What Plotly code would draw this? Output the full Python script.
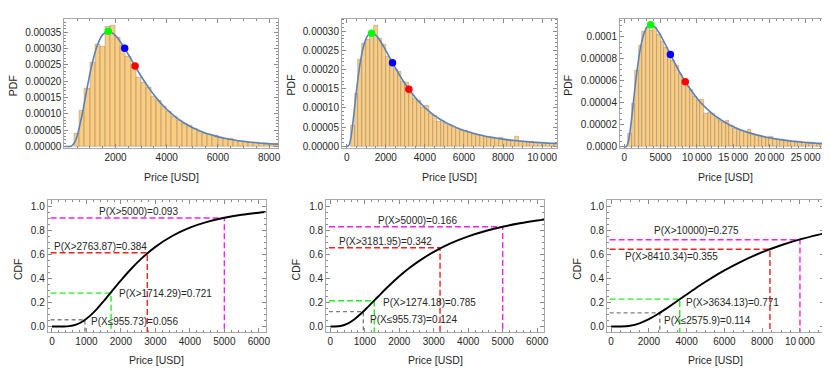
import plotly.graph_objects as go

W, H = 830, 372
FONT = "Liberation Sans"

# ---------------- PDF panels: histogram data (bin centers, heights) ----------------
bins1 = [500 + 200 * i for i in range(40)]
hist1 = [4.0, 10.9, 17.7, 25.7, 31.1, 30.5, 36.8, 37.1, 33.3, 31.0, 27.5, 25.0, 21.0, 19.5, 18.0,
         15.3, 14.0, 12.2, 10.8, 9.3, 8.0, 7.0, 6.3, 5.6, 4.7, 4.0, 3.7, 3.2, 2.8, 2.5, 2.4, 1.9,
         1.6, 1.5, 1.3, 1.1, 1.0, 0.9, 0.8, 0.8]
bins2 = [300 + 200 * i for i in range(53)]
hist2 = [5.3, 13.7, 22.5, 26.8, 27.8, 29.0, 31.6, 28.2, 26.5, 23.5, 22.5, 20.0, 19.5, 17.0, 16.5,
         13.8, 12.5, 11.8, 10.2, 10.5, 8.6, 8.0, 6.5, 6.8, 6.0, 5.4, 5.2, 4.6, 4.2, 4.1, 3.5, 3.3,
         3.0, 2.8, 2.5, 2.4, 2.2, 2.0, 2.2, 1.8, 1.6, 1.5, 2.5, 1.3, 1.2, 1.1, 1.1, 1.0, 0.9, 0.9,
         0.8, 0.8, 0.7]
bins3 = [750 + 500 * i for i in range(56)]
hist3 = [1.2, 3.9, 6.9, 9.2, 10.5, 10.8, 10.6, 10.8, 10.2, 9.6, 9.0, 8.6, 7.8, 7.4, 6.7, 6.0, 5.5,
         5.2, 4.6, 4.2, 4.3, 3.0, 3.1, 3.0, 2.6, 2.4, 2.2, 2.4, 1.9, 1.7, 1.6, 1.5, 1.4, 1.6, 1.2,
         1.1, 1.0, 0.9, 0.85, 0.95, 0.75, 0.7, 0.65, 0.6, 0.55, 0.5, 0.48, 0.45, 0.42, 0.4, 0.37,
         0.34, 0.32, 0.3, 0.28, 0.3]
binw = [200, 200, 500]

# fitted density curves (x, pdf*1e5)
fit1_x = [0, 100, 200, 300, 400, 500, 700, 900, 1100, 1300, 1500, 1700, 1900, 2100, 2300, 2500, 2700,
          2900, 3100, 3300, 3500, 3700, 3900, 4100, 4300, 4500, 4700, 4900, 5100, 5300, 5500, 5700,
          5900, 6100, 6300, 6500, 6700, 6900, 7100, 7300, 7500, 7700, 7900, 8100, 8300, 8400]
fit1_y = [0, 0, 0.01, 0.3, 1.26, 3.25, 10.0, 18.34, 25.84, 31.2, 34.2, 35.17, 34.6, 32.97, 30.71,
          28.13, 25.44, 22.78, 20.27, 17.93, 15.8, 13.88, 12.17, 10.66, 9.32, 8.14, 7.12, 6.22, 5.44,
          4.76, 4.16, 3.65, 3.19, 2.8, 2.46, 2.16, 1.9, 1.67, 1.47, 1.3, 1.15, 1.02, 0.9, 0.8, 0.71, 0.67]
fit2_x = [0, 100, 200, 300, 500, 700, 900, 1100, 1300, 1500, 1700, 1900, 2100, 2300, 2500, 2700, 2900,
          3100, 3300, 3500, 3700, 3900, 4100, 4300, 4500, 4700, 4900, 5100, 5300, 5500, 5700, 5900,
          6100, 6300, 6500, 6700, 6900, 7100, 7300, 7500, 7700, 7900, 8100, 8300, 8500, 8700, 8900,
          9100, 9300, 9500, 9700, 9900, 10100, 10300, 10500, 10700, 10800]
fit2_y = [0, 0.15, 1.78, 5.3, 14.42, 22.03, 26.77, 29.03, 29.54, 28.91, 27.6, 25.92, 24.08, 22.2,
          20.36, 18.61, 16.97, 15.46, 14.06, 12.79, 11.64, 10.59, 9.64, 8.79, 8.01, 7.31, 6.68, 6.11,
          5.59, 5.12, 4.69, 4.31, 3.96, 3.64, 3.35, 3.09, 2.85, 2.63, 2.43, 2.25, 2.08, 1.93, 1.79,
          1.66, 1.54, 1.43, 1.34, 1.24, 1.16, 1.08, 1.01, 0.94, 0.88, 0.82, 0.77, 0.72, 0.7]
fit3_x = [0, 250, 500, 750, 1000, 1250, 1750, 2250, 2750, 3250, 3750, 4250, 4750, 5250, 5750, 6250,
          6750, 7250, 7750, 8250, 8750, 9250, 9750, 10250, 10750, 11250, 11750, 12250, 12750, 13250,
          13750, 14250, 14750, 15250, 15750, 16250, 16750, 17250, 17750, 18250, 18750, 19250, 19750,
          20250, 20750, 21250, 21750, 22250, 22750, 23250, 23750, 24250, 24750, 25250, 25750, 26250,
          26750, 27250, 27750, 28250, 28600]
fit3_y = [0, 0.02, 0.33, 1.2, 2.5, 4.01, 6.89, 9.04, 10.35, 10.97, 11.09, 10.86, 10.41, 9.83, 9.19,
          8.53, 7.88, 7.24, 6.65, 6.08, 5.57, 5.09, 4.65, 4.24, 3.88, 3.54, 3.24, 2.96, 2.71, 2.49,
          2.28, 2.09, 1.92, 1.76, 1.62, 1.49, 1.38, 1.27, 1.17, 1.08, 1.0, 0.925, 0.856, 0.793, 0.736,
          0.683, 0.634, 0.589, 0.548, 0.51, 0.475, 0.443, 0.413, 0.386, 0.36, 0.337, 0.315, 0.295,
          0.276, 0.259, 0.25]

# mode (green), median (blue), mean (red)
pts_x = [[1714.29, 2357, 2763.87], [1274.18, 2345, 3181.95], [3634.13, 6358, 8410.34]]
pts_y = [[35.2, 30.0, 24.58], [29.5, 21.78, 14.87], [11.1, 8.39, 5.91]]
pt_colors = ["#00FF00", "#0000FF", "#FF0000"]

# ---------------- CDF panels ----------------
cdf1_x = [0, 300, 500, 700, 900, 1100, 1300, 1500, 1700, 2000, 2300, 2600, 3000, 3500, 4000, 4500,
          5000, 5500, 6000, 6200]
cdf1_y = [0, 0.0001, 0.003, 0.0157, 0.044, 0.0885, 0.1459, 0.2117, 0.2814, 0.3856, 0.4828, 0.569,
          0.6655, 0.7583, 0.8257, 0.8742, 0.9087, 0.9335, 0.9512, 0.9568]
cdf2_x = [0, 100, 300, 500, 700, 900, 1100, 1300, 1500, 1700, 2000, 2300, 2600, 3000, 3500, 4000,
          4500, 5000, 5500, 6000, 6200]
cdf2_y = [0, 0.0, 0.0042, 0.0239, 0.0608, 0.1101, 0.1663, 0.2251, 0.2837, 0.3403, 0.4193, 0.4901,
          0.5526, 0.6238, 0.6959, 0.7529, 0.798, 0.8338, 0.8625, 0.8855, 0.8934]
cdf3_x = [0, 500, 1000, 1500, 2000, 2500, 3000, 3500, 4000, 4500, 5000, 6000, 7000, 8000, 9000, 10000,
          11000, 11260]
cdf3_y = [0, 0.0003, 0.0067, 0.0267, 0.061, 0.106, 0.1576, 0.2124, 0.2677, 0.322, 0.374, 0.4691,
          0.5512, 0.6206, 0.6789, 0.7276, 0.7682, 0.7776]

# reference lines: (threshold, cdf level, colour, label)
ref1 = [(955.73, 0.056, "gray", "P(X\u2264955.73)=0.056"),
        (1714.29, 0.279, "#22EE22", "P(X>1714.29)=0.721"),
        (2763.87, 0.616, "#EE2222", "P(X>2763.87)=0.384"),
        (5000, 0.907, "#EE22EE", "P(X>5000)=0.093")]
ref2 = [(955.73, 0.124, "gray", "P(X\u2264955.73)=0.124"),
        (1274.18, 0.215, "#22EE22", "P(X>1274.18)=0.785"),
        (3181.95, 0.658, "#EE2222", "P(X>3181.95)=0.342"),
        (5000, 0.834, "#EE22EE", "P(X>5000)=0.166")]
ref3 = [(2575.9, 0.114, "gray", "P(X\u22642575.9)=0.114"),
        (3634.13, 0.229, "#22EE22", "P(X>3634.13)=0.771"),
        (8410.34, 0.645, "#EE2222", "P(X>8410.34)=0.355"),
        (10000, 0.725, "#EE22EE", "P(X>10000)=0.275")]
# label anchor positions (data x, data y, xanchor)
lab1 = [(1067, 0.038, "left"), (1886, 0.277, "left"), (1417, 0.670, "center"), (2518, 0.961, "center")]
lab2 = [(1078, 0.058, "left"), (1482, 0.198, "left"), (1607, 0.714, "center"), (2515, 0.890, "center")]
lab3 = [(2684, 0.052, "left"), (3858, 0.203, "left"), (3210, 0.588, "center"), (4532, 0.802, "center")]
line_start = [-40, -40, -80]

# ---------------- layout geometry (pixels) ----------------
top_px = [(56.7, 271.7), (336, 552.7), (615.7, 829)]
bot_px = [(40, 259.3), (320, 539.3), (602.7, 820.7)]
top_y = (10.7, 141.7)
bot_y = (194, 328)

top_xr = [[0, 8350], [-240, 10780], [-590, 28630]]
top_yr = [[-0.5, 39.1], [-0.5, 33.3], [-0.12, 11.65]]
bot_xr = [[-122, 6200], [-125, 6200], [-215, 11260]]
bot_yr = [-0.05, 1.058]

top_xt = [[2000, 4000, 6000, 8000], [0, 2000, 4000, 6000, 8000, 10000],
          [0, 5000, 10000, 15000, 20000, 25000]]
top_xtt = [["2000", "4000", "6000", "8000"], ["0", "2000", "4000", "6000", "8000", "10\u2009000"],
           ["0", "5000", "10\u2009000", "15\u2009000", "20\u2009000", "25\u2009000"]]
top_yt = [[0, 5, 10, 15, 20, 25, 30, 35], [0, 5, 10, 15, 20, 25, 30], [0, 2, 4, 6, 8, 10]]
top_ytt = [["0.00000", "0.00005", "0.00010", "0.00015", "0.00020", "0.00025", "0.00030", "0.00035"],
           ["0.00000", "0.00005", "0.00010", "0.00015", "0.00020", "0.00025", "0.00030"],
           ["0.0000", "0.00002", "0.00004", "0.00006", "0.00008", "0.0001"]]
bot_xt = [[0, 1000, 2000, 3000, 4000, 5000, 6000], [0, 1000, 2000, 3000, 4000, 5000, 6000],
          [0, 2000, 4000, 6000, 8000, 10000]]
bot_xtt = [[str(v) for v in bot_xt[0]], [str(v) for v in bot_xt[1]],
           ["0", "2000", "4000", "6000", "8000", "10\u2009000"]]
bot_yt = [0, 0.2, 0.4, 0.6, 0.8, 1.0]
bot_ytt = ["0.0", "0.2", "0.4", "0.6", "0.8", "1.0"]
top_minor_x = [500, 500, 1000]
top_minor_y = [1, 1, 0.5]
bot_minor_x = [200, 200, 500]


def px2x(p):
    return p / W


def px2y(p):
    return 1 - p / H


fig = go.Figure()
FRAME = "#a8a8a8"
TICKC = "#8a8a8a"
TXT = "#262626"


def axis_common():
    return dict(showgrid=False, zeroline=False, showline=True, linecolor=FRAME, linewidth=1,
                mirror="ticks", ticks="inside", ticklen=4, tickcolor=TICKC, tickwidth=0.8,
                tickfont=dict(family=FONT, size=10, color=TXT), tickmode="array")


layout = dict(width=W, height=H, margin=dict(l=0, r=0, t=0, b=0), paper_bgcolor="white",
              plot_bgcolor="white", showlegend=False, annotations=[])

hists = [(bins1, hist1, fit1_x, fit1_y), (bins2, hist2, fit2_x, fit2_y), (bins3, hist3, fit3_x, fit3_y)]
for i in range(3):
    n = i + 1
    xa, ya = f"x{n}", f"y{n}"
    b, h, fx, fy = hists[i]
    fig.add_trace(go.Bar(x=b, y=h, width=binw[i], xaxis=xa, yaxis=ya,
                         marker=dict(color="rgba(252,200,115,0.9)",
                                     line=dict(color="rgba(90,90,90,0.5)", width=0.6))))
    fig.add_trace(go.Scatter(x=fx, y=fy, mode="lines", xaxis=xa, yaxis=ya, line_shape="spline",
                             line=dict(color="#5E81B5", width=1.6)))
    fig.add_trace(go.Scatter(x=pts_x[i], y=pts_y[i], mode="markers", xaxis=xa, yaxis=ya,
                             marker=dict(color=pt_colors, size=7.5)))
    xd = [px2x(top_px[i][0]), px2x(top_px[i][1])]
    yd = [px2y(top_y[1]), px2y(top_y[0])]
    ax = axis_common()
    ax.update(domain=xd, range=top_xr[i], anchor=ya, tickvals=top_xt[i], ticktext=top_xtt[i],
              minor=dict(ticks="inside", ticklen=2, dtick=top_minor_x[i], tick0=0, tickcolor=TICKC))
    ay = axis_common()
    ay.update(domain=yd, range=top_yr[i], anchor=xa, tickvals=top_yt[i], ticktext=top_ytt[i],
              minor=dict(ticks="inside", ticklen=2, dtick=top_minor_y[i], tick0=0, tickcolor=TICKC))
    layout["xaxis" if n == 1 else f"xaxis{n}"] = ax
    layout["yaxis" if n == 1 else f"yaxis{n}"] = ay
    layout["annotations"].append(dict(text="Price [USD]", xref="paper", yref="paper",
                                      x=px2x((top_px[i][0] + top_px[i][1]) / 2), y=px2y(170.7),
                                      showarrow=False, font=dict(family=FONT, size=10.5, color=TXT),
                                      xanchor="center", yanchor="middle"))
    layout["annotations"].append(dict(text="PDF", xref="paper", yref="paper",
                                      x=px2x([5, 285, 564][i]), y=px2y(78), textangle=-90,
                                      showarrow=False, font=dict(family=FONT, size=10.5, color=TXT),
                                      xanchor="center", yanchor="middle"))

cdfs = [(cdf1_x, cdf1_y, ref1, lab1), (cdf2_x, cdf2_y, ref2, lab2), (cdf3_x, cdf3_y, ref3, lab3)]
for i in range(3):
    n = i + 4
    xa, ya = f"x{n}", f"y{n}"
    cx, cy, refs, labs = cdfs[i]
    for (thr, lev, col, txt), (lx, ly, anc) in zip(refs, labs):
        fig.add_trace(go.Scatter(x=[line_start[i], thr, thr], y=[lev, lev, bot_yr[0]], mode="lines",
                                 xaxis=xa, yaxis=ya,
                                 line=dict(color=col, width=1.4,
                                           dash="4px,3px" if col == "gray" else "6px,3px")))
        layout["annotations"].append(dict(text=txt, xref=xa, yref=ya, x=lx, y=ly, showarrow=False,
                                          xanchor=anc, yanchor="middle",
                                          font=dict(family=FONT, size=10, color=TXT)))
    fig.add_trace(go.Scatter(x=cx, y=cy, mode="lines", xaxis=xa, yaxis=ya, line_shape="spline",
                             line=dict(color="black", width=1.9)))
    xd = [px2x(bot_px[i][0]), px2x(bot_px[i][1])]
    yd = [px2y(bot_y[1]), px2y(bot_y[0])]
    ax = axis_common()
    ax.update(domain=xd, range=bot_xr[i], anchor=ya, tickvals=bot_xt[i], ticktext=bot_xtt[i],
              minor=dict(ticks="inside", ticklen=2, dtick=bot_minor_x[i], tick0=0, tickcolor=TICKC))
    ay = axis_common()
    ay.update(domain=yd, range=bot_yr, anchor=xa, tickvals=bot_yt, ticktext=bot_ytt,
              minor=dict(ticks="inside", ticklen=2, dtick=0.05, tick0=0, tickcolor=TICKC))
    layout[f"xaxis{n}"] = ax
    layout[f"yaxis{n}"] = ay
    layout["annotations"].append(dict(text="Price [USD]", xref="paper", yref="paper",
                                      x=px2x((bot_px[i][0] + bot_px[i][1]) / 2), y=px2y(355.7),
                                      showarrow=False, font=dict(family=FONT, size=10.5, color=TXT),
                                      xanchor="center", yanchor="middle"))
    layout["annotations"].append(dict(text="CDF", xref="paper", yref="paper",
                                      x=px2x([10, 290, 573][i]), y=px2y(264), textangle=-90,
                                      showarrow=False, font=dict(family=FONT, size=10.5, color=TXT),
                                      xanchor="center", yanchor="middle"))

layout["bargap"] = 0
fig.update_layout(**layout)
fig.write_html("out.html")
